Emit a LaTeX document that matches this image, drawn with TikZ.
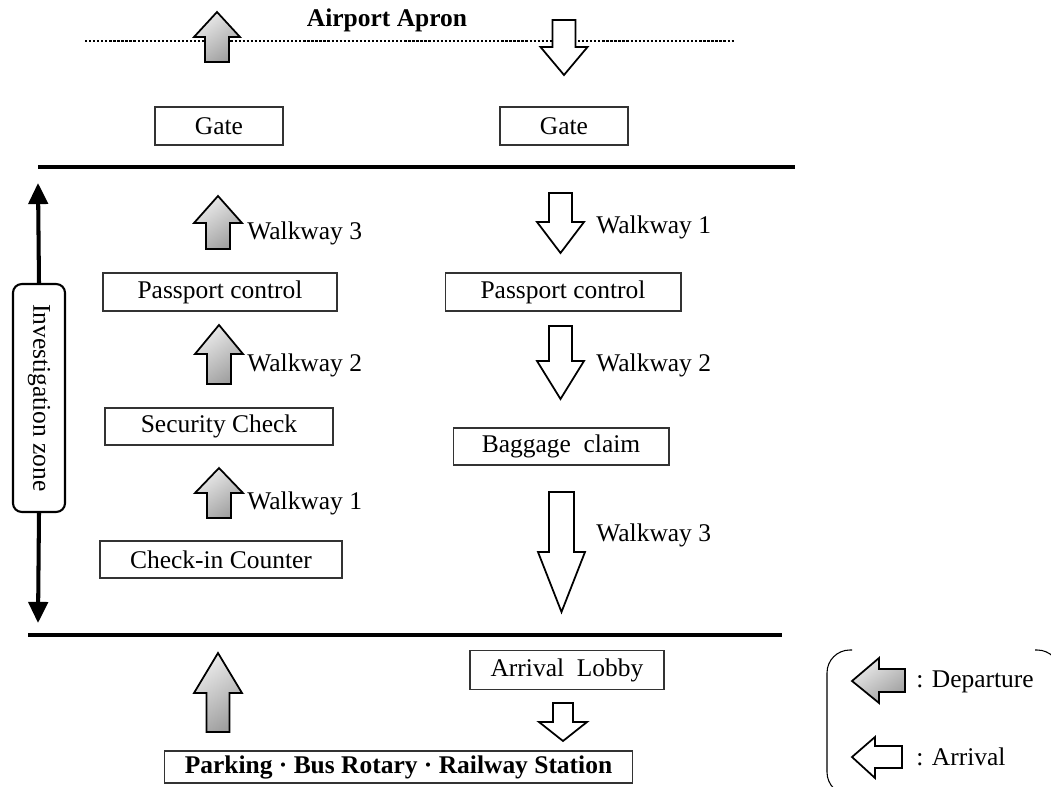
\documentclass[tikz,border=0pt]{standalone}
\usepackage{fontspec}
\setmainfont{Liberation Serif}
\usetikzlibrary{arrows.meta}

% block arrow: [style] {x centre}{tip y}{head base y}{tail y}{half head}{half shaft}
\newcommand{\blockarrow}[7][]{%
  \draw[#1] (#2,#3) -- ({#2+#6},#4) -- ({#2+#7},#4) -- ({#2+#7},#5)
    -- ({#2-#7},#5) -- ({#2-#7},#4) -- ({#2-#6},#4) -- cycle;}

\tikzset{
  txt/.style={font=\fontsize{14.5}{17}\selectfont},
  box/.style={txt, draw=black!80, line width=0.6pt, inner sep=0pt},
  lbl/.style={txt, anchor=west, inner sep=0pt},
  deparr/.style={draw=black, line width=1pt, top color=gray!15, bottom color=gray!75, shading angle=35},
  arrarr/.style={draw=black, line width=1pt, fill=white},
  border/.style={line width=2pt},
}

\begin{document}
\begin{tikzpicture}[x=0.02cm, y=-0.02cm]
    \useasboundingbox (0,0) rectangle (1051,787);
    \clip (0,0) rectangle (1051,787);

    % Apron line and title
    \draw[densely dotted, line width=1.3pt] (85,41) -- (735,41);
    \node[txt, font=\bfseries\fontsize{14.5}{17}\selectfont] (apron) at (387,20) {Airport Apron};

    % Borders of the investigation zone
    \draw[border] (38,167) -- (795,167);
    \draw[border] (28,635) -- (782,635);

    % Gates
    \node[box, minimum width=2.56cm, minimum height=0.76cm] (gatedep) at (219,126) {Gate};
    \node[box, minimum width=2.56cm, minimum height=0.76cm] (gatearr) at (564,126) {Gate};

    % Departure side
    \node[box, minimum width=4.68cm, minimum height=0.76cm] (passdep) at (220,292) {Passport control};
    \node[box, minimum width=4.56cm, minimum height=0.74cm] (security) at (219,426.5) {Security Check};
    \node[box, minimum width=4.84cm, minimum height=0.74cm] (checkin) at (221,559.5) {Check-in Counter};

    % Arrival side
    \node[box, minimum width=4.72cm, minimum height=0.76cm] (passarr) at (563,292) {Passport control};
    \node[box, minimum width=4.32cm, minimum height=0.74cm] (baggage) at (561,446.5) {Baggage\ \ claim};
    \node[box, minimum width=3.88cm, minimum height=0.78cm] (lobby) at (567,670) {Arrival\ \ Lobby};
    \node[box, font=\bfseries\fontsize{14.5}{17}\selectfont, minimum width=9.38cm, minimum height=0.64cm] (parking) at (398.5,767) {Parking · Bus Rotary · Railway Station};

    % Departure arrows
    \blockarrow[deparr]{217}{12}{37}{62}{23}{12}
    \blockarrow[deparr]{218}{196}{223}{249}{24}{12}
    \blockarrow[deparr]{219}{325}{354}{384}{24}{12}
    \blockarrow[deparr]{219}{468}{493}{518}{24}{12}
    \blockarrow[deparr]{218}{653}{693}{732}{24}{11.5}

    % Arrival arrows
    \blockarrow[arrarr]{564}{75}{47}{20}{23.5}{11.5}
    \blockarrow[arrarr]{560.5}{253}{222}{193}{23.5}{11.5}
    \blockarrow[arrarr]{560.5}{399}{361}{326}{23.5}{11.5}
    \blockarrow[arrarr]{561.5}{612}{552}{492}{23.5}{12.5}
    \blockarrow[arrarr]{563}{741}{722}{703}{24}{10}

    % Walkway labels
    \node[lbl] (dw3) at (247,233) {Walkway 3};
    \node[lbl] (dw2) at (247,365) {Walkway 2};
    \node[lbl] (dw1) at (247,503) {Walkway 1};
    \node[lbl] (aw1) at (596,227) {Walkway 1};
    \node[lbl] (aw2) at (596,365) {Walkway 2};
    \node[lbl] (aw3) at (596,535) {Walkway 3};

    % Investigation zone
    \coordinate (ztop) at (38,183);
    \coordinate (zbot) at (38,623);
    \node[txt, draw, line width=1.2pt, rounded corners=5pt, fill=white, rotate=-90,
          minimum width=4.56cm, minimum height=1.04cm, inner sep=0pt] (izone) at (39,398) {Investigation zone};
    \draw[line width=2.3pt, -{Triangle[length=12pt,width=11pt]}] (izone.west) -- (ztop);
    \draw[line width=2.3pt, -{Triangle[length=12pt,width=11pt]}] (izone.east) -- (zbot);

    % Legend
    \draw[line width=0.6pt, rounded corners=13pt] (852,650) -- (827,650) -- (827,795) -- (852,795);
    \draw[line width=0.6pt, rounded corners=13pt] (1035,650) -- (1060,650) -- (1060,795) -- (1035,795);
    \draw[deparr] (852,681) -- (879,658) -- (879,669) -- (905,669) -- (905,692) -- (879,692) -- (879,703) -- cycle;
    \draw[arrarr] (852,757) -- (875,737) -- (875,746) -- (902,746) -- (902,768) -- (875,768) -- (875,778) -- cycle;
    \node[lbl] (ldep) at (916,682) {: Departure};
    \node[lbl] (larr) at (916,757) {: Arrival};

\end{tikzpicture}
\end{document}
